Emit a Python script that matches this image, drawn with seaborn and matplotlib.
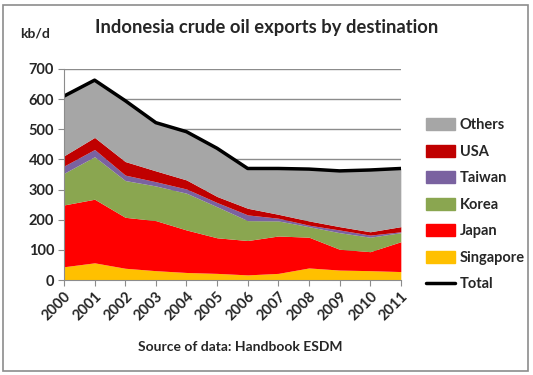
import matplotlib
matplotlib.use("Agg")
import matplotlib.pyplot as plt
from matplotlib.patches import Rectangle
from matplotlib.lines import Line2D
import seaborn as sns
import pandas as pd

# values (kb/d)
years = [2000, 2001, 2002, 2003, 2004, 2005, 2006, 2007, 2008, 2009, 2010, 2011]
singapore = [44, 57, 39, 31, 25, 22, 17, 22, 40, 33, 31, 28]
japan = [205, 211, 169, 166, 141, 118, 114, 124, 102, 69, 63, 99]
korea = [105, 141, 122, 115, 122, 103, 66, 50, 35, 55, 48, 30]
taiwan = [24, 24, 18, 14, 14, 14, 19, 9, 5, 9, 7, 3]
usa = [34, 40, 45, 36, 30, 20, 22, 13, 14, 11, 11, 17]
others = [198, 190, 202, 160, 160, 160, 132, 152, 172, 185, 205, 193]

series = ["Singapore", "Japan", "Korea", "Taiwan", "USA", "Others"]
colors = ["#FFC000", "#FF0000", "#8AA650", "#7A62A0", "#C00000", "#A6A6A6"]

df = pd.DataFrame({"year": years, "Singapore": singapore, "Japan": japan,
                   "Korea": korea, "Taiwan": taiwan, "USA": usa, "Others": others})
df["Total"] = df[series].sum(axis=1)

sns.set_style("white")
plt.rcParams["font.family"] = ["Lato", "DejaVu Sans"]
plt.rcParams["font.weight"] = "bold"

fig = plt.figure(figsize=(5.33, 3.75), dpi=100)
ax = fig.add_axes([0.120, 0.2533, 0.632, 0.5627])

ax.stackplot(df["year"], [df[s] for s in series], colors=colors, linewidth=0)
sns.lineplot(data=df, x="year", y="Total", color="black", linewidth=2.5, ax=ax)

ax.set_xlim(2000, 2011)
ax.set_ylim(0, 700)
ax.set_yticks(range(0, 701, 100))
ax.set_xticks(years)
ax.set_xticklabels([str(y) for y in years], rotation=45, ha="right",
                   rotation_mode="anchor", fontsize=10.5, fontweight="bold")
ax.set_yticklabels([str(v) for v in range(0, 701, 100)], fontsize=10.5, fontweight="bold")
ax.set_xlabel("")
ax.set_ylabel("")
ax.yaxis.grid(True, color="#8C8C8C", linewidth=1)
ax.set_axisbelow(True)
for side in ["top", "right"]:
    ax.spines[side].set_visible(False)
for side in ["left", "bottom"]:
    ax.spines[side].set_color("#8C8C8C")
ax.tick_params(axis="both", length=4, color="#8C8C8C", direction="out",
               bottom=True, left=True, pad=3)

handles = [Rectangle((0, 0), 1, 1, color=c) for c in colors[::-1]]
handles.append(Line2D([0], [0], color="black", linewidth=2.5))
labels = series[::-1] + ["Total"]
fig.legend(handles, labels, loc="upper left", bbox_to_anchor=(0.775, 0.72),
           frameon=False, handlelength=2.0, handleheight=0.9,
           labelspacing=0.85, handletextpad=0.3,
           prop={"weight": "bold", "size": 10.5})

fig.text(0.50, 0.928, "Indonesia crude oil exports by destination",
         ha="center", va="center", fontsize=13.2, fontweight="bold")
fig.text(0.038, 0.912, "kb/d", ha="left", va="center", fontsize=10, fontweight="bold")
fig.text(0.45, 0.075, "Source of data: Handbook ESDM", ha="center", va="center",
         fontsize=10, fontweight="bold")

fig.patches.append(Rectangle((0.006, 0.01), 0.985, 0.978, transform=fig.transFigure,
                             fill=False, edgecolor="#8C8C8C", linewidth=1.2))

fig.savefig("out.png", dpi=100)
